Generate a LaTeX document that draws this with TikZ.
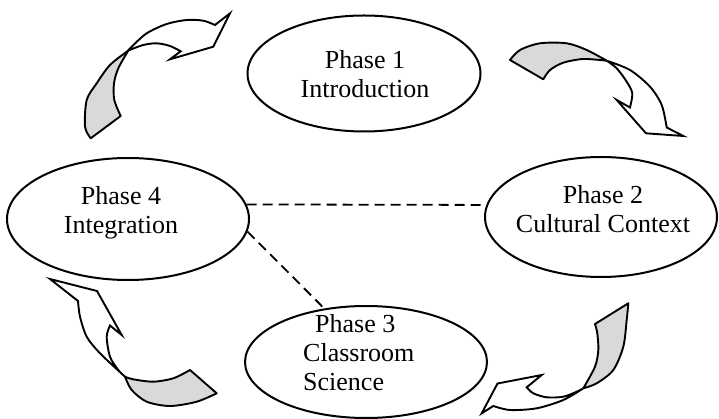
\documentclass[tikz,border=0pt]{standalone}
\usepackage{fontspec}
\setmainfont{Liberation Serif}
\usetikzlibrary{shapes.geometric}
\begin{document}
\begin{tikzpicture}[x=1pt,y=-1pt,
  phase/.style={draw, ellipse, line width=2pt, inner sep=0pt},
  lbl/.style={font=\fontsize{26}{29}\selectfont, align=center, inner sep=0pt, anchor=north},
  link/.style={dash pattern=on 10pt off 6pt, line width=1.8pt},
  ribbon/.style={draw, line width=1.9pt, fill=white, line join=miter},
  twist/.style={draw, line width=1.9pt, fill=gray!30, line join=round}]
\useasboundingbox (0,0) rectangle (719,419);

% ellipses
\node[phase, minimum width=233pt, minimum height=116pt] (p1) at (364,73.5) {};
\node[phase, minimum width=232pt, minimum height=120pt] (p2) at (601,217) {};
\node[phase, minimum width=242pt, minimum height=112pt] (p3) at (366,362) {};
\node[phase, minimum width=242pt, minimum height=122pt] (p4) at (128,219) {};

% labels
\node[lbl] (t1) at (365,50) {Phase 1\\Introduction};
\node[lbl] (t2) at (603,185) {Phase 2\\Cultural Context};
\node[lbl] (t4) at (121,186) {Phase 4\\Integration};
\node[lbl, align=left, anchor=north west] (t3) at (303,314) {\hspace*{12pt}Phase 3\\Classroom\\Science};

% dashed links
\draw[link] (p4.7) -- (p2.174);
\draw[link] (p4.-6) -- (p3.128);

% ribbon arrow 1 (top left)
\path[twist] plot[smooth] coordinates {(90.7,138.3) (85,126.7) (86.7,100) (96.7,83.3) (110,65) (128.3,50.5)}
  -- plot[smooth] coordinates {(128.3,50.5) (118.3,68.3) (114,83.3) (114.3,100) (120.7,116)} -- cycle;
\path[ribbon] plot[smooth] coordinates {(128.3,50.5) (131.7,46.7) (146.7,33.3) (166.7,24) (186.7,20) (203.3,20.7) (215,25)}
  -- (230,13.3) -- (213.3,46.7) -- (170,59.3) -- (180.7,51.3)
  -- plot[smooth] coordinates {(180.7,51.3) (170,46) (156.7,43.3) (143.3,45) (128.3,50.5)} -- cycle;

% ribbon arrow 2 (top right)
\path[twist] plot[smooth] coordinates {(510,60) (520,50) (540,43.3) (566.7,43.3) (586.7,50) (606.7,60.7)}
  -- plot[smooth] coordinates {(606.7,60.7) (583.3,59) (563.3,62.7) (550,70) (543.3,79.3)} -- cycle;
\path[ribbon] plot[smooth] coordinates {(606.7,60.7) (630,70) (650,86.7) (661.7,105) (666.7,127.5)}
  -- (683.3,136) -- (646,133.3) -- (616.7,100) -- (630,107.5)
  -- plot[smooth] coordinates {(630,107.5) (632.3,93.3) (626.7,81.7) (616.7,68.3) (606.7,60.7)} -- cycle;

% ribbon arrow 3 (bottom right)
\path[twist] plot[smooth] coordinates {(628.3,303.3) (626.7,320) (623.3,346.7) (613.3,370) (596.7,383.3) (583.3,388.3)}
  -- plot[smooth] coordinates {(583.3,388.3) (595,366.7) (598.3,350) (597.3,333.3) (595,324)} -- cycle;
\path[ribbon] plot[smooth] coordinates {(583.3,388.3) (563.3,400) (536.7,408.3) (510,410) (493.3,406)}
  -- (481.7,413.3) -- (497.5,383.5) -- (541.7,375) -- (526.7,387.3)
  -- plot[smooth] coordinates {(526.7,387.3) (533.3,393.3) (546.7,397.3) (563.3,396.7) (576.7,391.7) (583.3,388.3)} -- cycle;

% ribbon arrow 4 (bottom left)
\path[twist] plot[smooth] coordinates {(216.7,393.3) (196.7,401.7) (170,406) (146.7,401.7) (131.7,390) (125,376.7)}
  -- plot[smooth] coordinates {(125,376.7) (133.3,379.3) (153.3,381.7) (173.3,378.3) (190,370)} -- cycle;
\path[ribbon] plot[smooth] coordinates {(125,376.7) (100,353.3) (86.7,336.7) (80,316.7) (78,301)}
  -- (50,279) -- (97,291) -- (121.7,335) -- (110,325.5)
  -- plot[smooth] coordinates {(110,325.5) (106.7,336.7) (110,356.7) (118.3,370) (125,376.7)} -- cycle;
\end{tikzpicture}
\end{document}
